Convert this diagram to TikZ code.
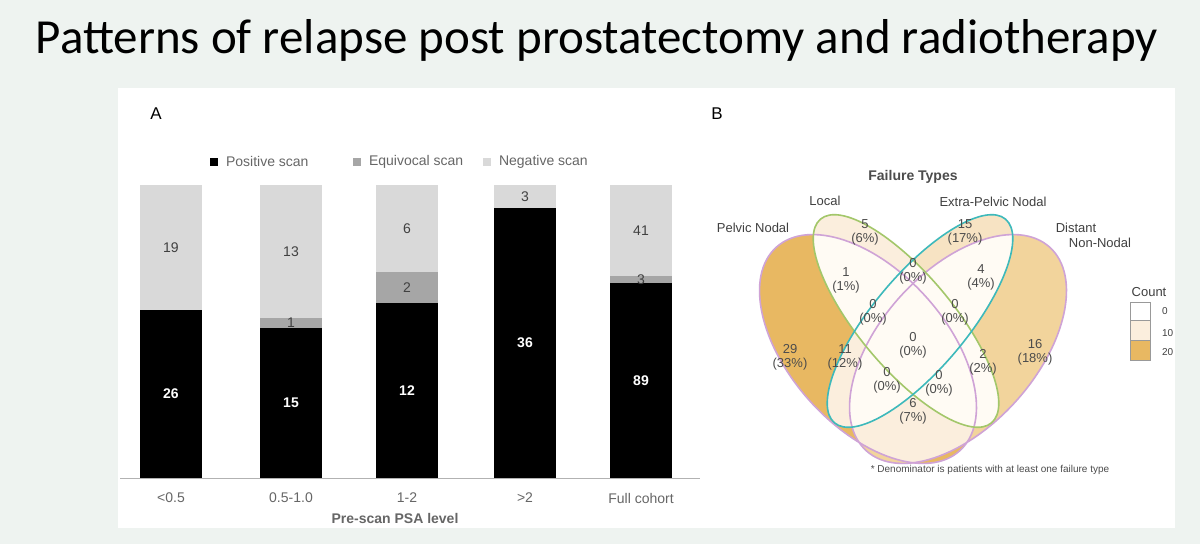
\documentclass[tikz,border=0pt]{standalone}
\usepackage{fontspec}
\setmainfont{Liberation Sans}
\newfontfamily\titlefont{Carlito}
\definecolor{pagebg}{HTML}{EEF3F0}
\definecolor{negcol}{HTML}{D9D9D9}
\definecolor{eqcol}{HTML}{A6A6A6}
\definecolor{darkor}{HTML}{E8B862}
\definecolor{midor}{HTML}{F2D49C}
\definecolor{lightor}{HTML}{F7E3C3}
\definecolor{paleor}{HTML}{FBEEDD}
\definecolor{whiteor}{HTML}{FFFBF4}
\definecolor{pinkline}{HTML}{CFA3D6}
\definecolor{greenline}{HTML}{A3C76A}
\definecolor{tealline}{HTML}{3DB9BB}
\def\pathP{(868,349) ellipse [x radius=137,y radius=78]}
\def\pathD{(958,349) ellipse [x radius=137,y radius=78]}
\def\pathL{(906,321) ellipse [x radius=133,y radius=47]}
\def\pathE{(920,321) ellipse [x radius=133,y radius=47]}
\tikzset{
  shapeP/.style={rotate around={-48:(868,349)}},
  shapeD/.style={rotate around={48:(958,349)}},
  shapeL/.style={rotate around={-50:(906,321)}},
  shapeE/.style={rotate around={50:(920,321)}},
  barlbl/.style={font=\fontsize{7}{8}\selectfont},
  venlbl/.style={font=\fontsize{6.5}{7}\selectfont,align=center,text=black!70},
  setlbl/.style={font=\fontsize{6.5}{7}\selectfont,text=black!75},
}
\begin{document}
\begin{tikzpicture}[x=0.5pt,y=-0.5pt]
\fill[pagebg] (0,0) rectangle (1200,544);
\useasboundingbox (0,0) rectangle (1200,544);
\node[font=\titlefont\fontsize{24.5}{28}\selectfont] (title) at (597,40) {Patterns of relapse post prostatectomy and radiotherapy};
\fill[white] (118,88) rectangle (1175,528);
% panel A
\node[font=\fontsize{8.5}{9}\selectfont] (lblA) at (156,114) {A};
\foreach \x/\nb/\eb/\lbl/\nv/\ev/\pv [count=\i] in
  {140/310/310/{<0.5}/19//26, 260/318/328/0.5-1.0/13/1/15, 376/272/303/1-2/6/2/12,
   494/208/208/{>2}/3//36, 610/276/283/Full cohort/41/3/89}
{
  \fill[negcol] (\x,185) rectangle (\x+62,\nb);
  \fill[eqcol] (\x,\nb) rectangle (\x+62,\eb);
  \fill[black] (\x,\eb) rectangle (\x+62,478);
  \node[barlbl,text=black!75] (neg\i) at (\x+31,{(185+\nb)/2}) {\nv};
  \node[barlbl,text=black!75,inner sep=0pt] (eq\i) at (\x+31,{(\nb+\eb)/2}) {\ev};
  \node[barlbl,text=white,font=\bfseries\fontsize{7}{8}\selectfont] (pos\i) at (\x+31,{(\eb+478)/2}) {\pv};
  \node[barlbl,text=black!60] (cat\i) at (\x+31,498) {\lbl};
}
\draw[black!30] (120,478) -- (700,478);
\node[barlbl,text=black!60,font=\bfseries\fontsize{7}{8}\selectfont] (xname) at (395,518) {Pre-scan PSA level};
\fill[black] (210,158) rectangle (218,166);
\node[barlbl,text=black!60,anchor=west] (legpos) at (219,162) {Positive scan};
\fill[eqcol] (353,158) rectangle (361,166);
\node[barlbl,text=black!60,anchor=west] (legeq) at (362,162) {Equivocal scan};
\fill[negcol] (483,158) rectangle (491,166);
\node[barlbl,text=black!60,anchor=west] (legneg) at (492,162) {Negative scan};
% panel B
\node[font=\fontsize{8.5}{9}\selectfont] (lblB) at (717,114) {B};
\fill[darkor,shapeP] \pathP;
\fill[midor,shapeD] \pathD;
\fill[lightor,shapeE] \pathE;
\fill[paleor,shapeL] \pathL;
\begin{scope}\clip[shapeP] \pathP; \fill[paleor,shapeE] \pathE; \fill[paleor,shapeD] \pathD; \end{scope}
\begin{scope}\clip[shapeL] \pathL; \fill[whiteor,shapeP] \pathP; \fill[whiteor,shapeE] \pathE; \fill[whiteor,shapeD] \pathD; \end{scope}
\begin{scope}\clip[shapeE] \pathE; \fill[whiteor,shapeD] \pathD; \end{scope}
\draw[pinkline,thick,shapeP] \pathP;
\draw[pinkline,thick,shapeD] \pathD;
\draw[greenline,thick,shapeL] \pathL;
\draw[tealline,thick,shapeE] \pathE;
\node[font=\bfseries\fontsize{7}{8}\selectfont,text=black!70] (ftitle) at (913,177) {Failure Types};
\node[setlbl] (sL) at (825,201) {Local};
\node[setlbl] (sE) at (993,202) {Extra-Pelvic Nodal};
\node[setlbl] (sP) at (753,228) {Pelvic Nodal};
\node[setlbl] (sD1) at (1076,228) {Distant};
\node[setlbl] (sD2) at (1100,243) {Non-Nodal};
\foreach \px/\py/\txt [count=\i] in
  {790/357/{29\\(33\%)}, 1035/352/{16\\(18\%)}, 865/232/{5\\(6\%)}, 965/232/{15\\(17\%)},
   846/280/{1\\(1\%)}, 981/277/{4\\(4\%)}, 913/271/{0\\(0\%)}, 873/312/{0\\(0\%)},
   955/312/{0\\(0\%)}, 913/345/{0\\(0\%)}, 845/357/{11\\(12\%)}, 983/362/{2\\(2\%)},
   887/380/{0\\(0\%)}, 939/383/{0\\(0\%)}, 913/411/{6\\(7\%)}}
  \node[venlbl,inner sep=0pt] (cnt\i) at (\px,\py) {\txt};
\node[setlbl] (cnthead) at (1149,292) {Count};
\draw[black!40,fill=white] (1130,302) rectangle (1150,320);
\draw[black!40,fill=paleor] (1130,320) rectangle (1150,340);
\draw[black!40,fill=darkor] (1130,340) rectangle (1150,360);
\node[setlbl,font=\fontsize{5}{6}\selectfont,anchor=west] (c0) at (1155,311) {0};
\node[setlbl,font=\fontsize{5}{6}\selectfont,anchor=west] (c10) at (1155,333) {10};
\node[setlbl,font=\fontsize{5}{6}\selectfont,anchor=west] (c20) at (1155,352) {20};
\node[font=\fontsize{5}{6}\selectfont,text=black!70] (fnote) at (990,470) {* Denominator is patients with at least one failure type};
\end{tikzpicture}
\end{document}
